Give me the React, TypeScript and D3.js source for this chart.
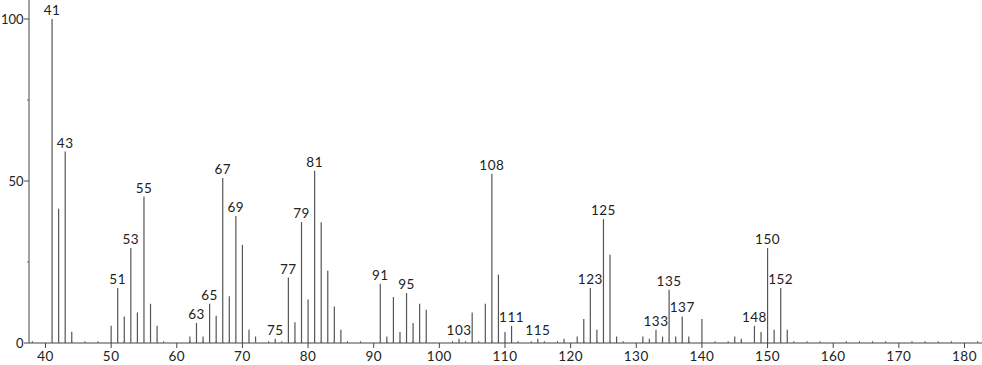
import React from "react";
import * as d3 from "d3";

const mz = [41,42,43,44,50,51,52,53,54,55,56,57,62,63,64,65,66,67,68,69,70,71,72,75,77,78,79,80,81,82,83,84,85,91,92,93,94,95,96,97,98,103,105,107,108,109,110,111,115,119,121,122,123,124,125,126,127,131,132,133,134,135,136,137,138,140,145,146,148,149,150,151,152,153];
const intensity = [100,41.4,59.1,3.5,5.3,17,8.2,29.3,9.4,45.2,12.1,5.3,2,6.2,2,12.1,8.4,50.9,14.4,39.2,30.3,4.1,2,1.3,20.2,6.4,37.3,13.4,53.2,37.3,22.3,11.3,4.1,18.3,2,14.2,3.4,15.4,6.2,12.1,10.3,1.3,9.4,12.1,52.2,21.1,3.4,5.3,1.3,1.3,2,7.4,17,4.1,38.2,27.2,2,2,1.3,4.1,2,16.4,2,8.2,2,7.4,2,1.3,5.3,3.4,29.3,4.1,17,4.1];
const labeledPeaks = [41,43,51,53,55,63,65,67,69,75,77,79,81,91,95,103,108,111,115,123,125,133,135,137,148,150,152];
const xMajorTicks = [40,50,60,70,80,90,100,110,120,130,140,150,160,170,180];
const yMajorTicks = [0,50,100];
const yMinorTicks = [25,75];

const W = 982, H = 365;
const FONT = "Lato, 'DejaVu Sans', sans-serif";
const FS = 13.5;
const LS = 0.5;

export default function App() {
  const x = d3.scaleLinear().domain([40, 180]).range([45.5, 964.5]);
  const y = d3.scaleLinear().domain([0, 100]).range([343, 19]);
  const x0 = 29;
  const base = y(0);
  const xMinor = d3.range(38, 183, 2).filter((v) => v % 10 !== 0);
  return (
    <div style={{ position: "absolute", left: 0, top: 0 }}>
      <svg width={W} height={H} style={{ display: "block", background: "#fff" }}>
        {mz.map((m, i) => (
          <line key={m} x1={x(m)} x2={x(m)} y1={base} y2={y(intensity[i])} stroke="#555" strokeWidth={1.2} />
        ))}
        {mz.map((m, i) =>
          labeledPeaks.includes(m) ? (
            <text key={"l" + m} x={x(m)} y={y(intensity[i]) - 4} textAnchor="middle" fontFamily={FONT} fontSize={FS} letterSpacing={LS} fill="#222">
              {m}
            </text>
          ) : null
        )}
        <line x1={x0} x2={x0} y1={0} y2={base} stroke="#999" strokeWidth={1.8} />
        {yMajorTicks.map((t) => (
          <g key={"y" + t}>
            <line x1={x0 - 5} x2={x0} y1={y(t)} y2={y(t)} stroke="#444" strokeWidth={1} />
            <text x={x0 - 5.5} y={y(t) + 4.5} textAnchor="end" fontFamily={FONT} fontSize={13} fill="#222">
              {t}
            </text>
          </g>
        ))}
        {yMinorTicks.map((t) => (
          <line key={"ym" + t} x1={x0 - 2} x2={x0} y1={y(t)} y2={y(t)} stroke="#666" strokeWidth={1} />
        ))}
        <line x1={x0} x2={W} y1={base} y2={base} stroke="#444" strokeWidth={1} />
        {xMinor.map((t) => (
          <line key={"xm" + t} x1={x(t)} x2={x(t)} y1={base - 2} y2={base} stroke="#666" strokeWidth={1} />
        ))}
        {xMajorTicks.map((t) => (
          <g key={"x" + t}>
            <line x1={x(t)} x2={x(t)} y1={base} y2={base + 5} stroke="#444" strokeWidth={1} />
            <text x={x(t)} y={base + 18} textAnchor="middle" fontFamily={FONT} fontSize={FS} letterSpacing={LS} fill="#222">
              {t}
            </text>
          </g>
        ))}
      </svg>
    </div>
  );
}
